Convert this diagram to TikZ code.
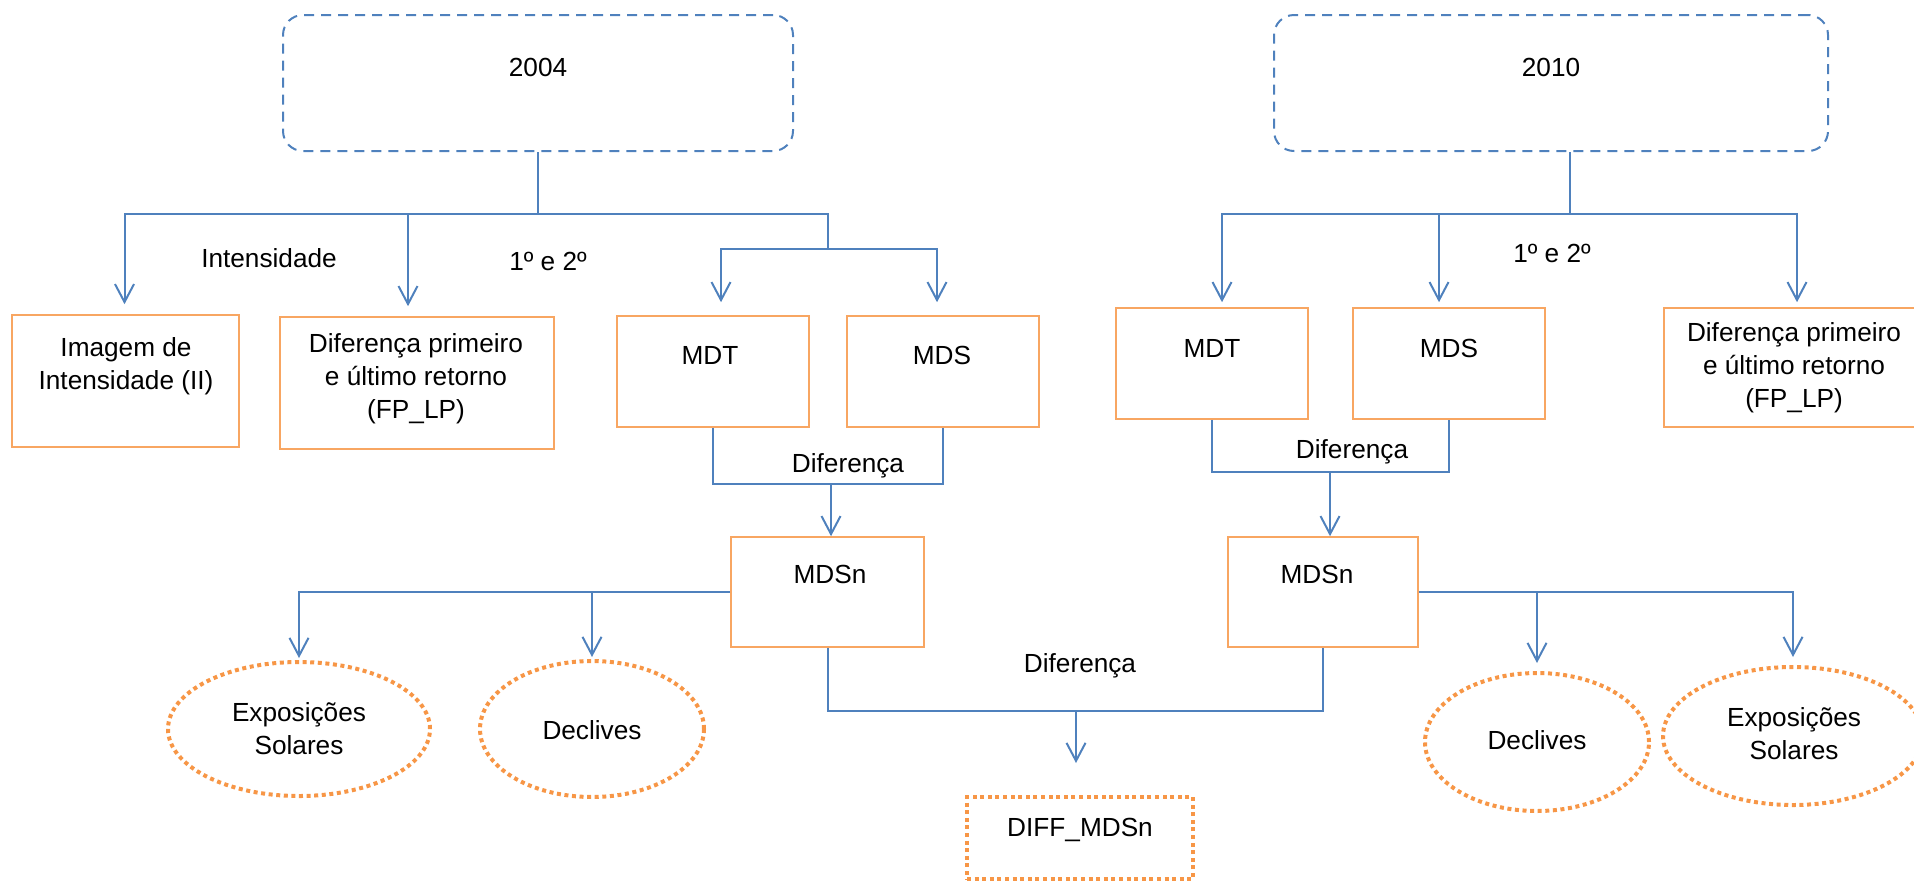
\documentclass[tikz,border=0pt]{standalone}
\usepackage{fontspec}
\setmainfont{Liberation Sans}
\usetikzlibrary{arrows.meta,shapes.geometric}
\definecolor{myblue}{HTML}{4F81BD}
\definecolor{myorange}{HTML}{F79646}
\colorlet{mylightorange}{myorange!85!white}
\tikzstyle{link}=[myblue,line width=1pt]
\tikzstyle{arr}=[link,-{Straight Barb[length=9pt,width=9.5pt]}]
\tikzstyle{year}=[draw=myblue,line width=1pt,dash pattern=on 5pt off 3.5pt,
                  rounded corners=10pt,inner sep=0]
\tikzstyle{prod}=[draw=mylightorange,line width=0.8pt,inner sep=0]
\tikzstyle{result}=[draw=myorange,line width=2pt,dash pattern=on 2pt off 1.8pt,inner sep=0]
\tikzstyle{lbl}=[inner sep=0,text height=9.4pt,text depth=0pt]
\tikzstyle{lbls}=[inner sep=0,align=center]

\begin{document}
\begin{tikzpicture}[x=0.5pt,y=-0.5pt,font=\fontsize{13.1}{16.5}\selectfont]
  \useasboundingbox (0,0) rectangle (1914,884);
  
  % YEARS
  \node[year,minimum width=255pt,minimum height=68pt] (yA) at (538,83) {};
  \node[lbl] (yAt) at (538,67) {2004};
  \node[year,minimum width=277pt,minimum height=68pt] (yB) at (1551,83) {};
  \node[lbl] (yBt) at (1551,67) {2010};
  
  % 2004 PRODUCTS
  \node[prod,minimum width=113.5pt,minimum height=66pt] (imgA) at (125.5,381) {};
  \node[lbls] (imgAt) at (126,366) {Imagem de\\Intensidade (II)};
  \node[prod,minimum width=137pt,minimum height=66pt] (fpA) at (417,383) {};
  \node[lbls] (fpAt) at (416,379) {Diferença primeiro\\e último retorno\\(FP\_LP)};
  \node[prod,minimum width=96pt,minimum height=55.5pt] (mdtA) at (713,371.5) {};
  \node[lbl] (mdtAt) at (710,355) {MDT};
  \node[prod,minimum width=96pt,minimum height=55.5pt] (mdsA) at (943,371.5) {};
  \node[lbl] (mdsAt) at (942,355) {MDS};
  \node[prod,minimum width=96.5pt,minimum height=55pt] (mdsnA) at (827.5,592) {};
  \node[lbl] (mdsnAt) at (830,574) {MDSn};
  \node[result,ellipse,minimum width=131pt,minimum height=67pt] (expA) at (299,729) {};
  \node[lbls] (expAt) at (299,729) {Exposições\\Solares};
  \node[result,ellipse,minimum width=112pt,minimum height=68pt] (decA) at (592,729) {};
  \node[lbl] (decAt) at (592,730) {Declives};
  
  % 2010 PRODUCTS
  \node[prod,minimum width=96pt,minimum height=55.5pt] (mdtB) at (1212,363.5) {};
  \node[lbl] (mdtBt) at (1212,348) {MDT};
  \node[prod,minimum width=96pt,minimum height=55.5pt] (mdsB) at (1449,363.5) {};
  \node[lbl] (mdsBt) at (1449,348) {MDS};
  \node[prod,minimum width=130pt,minimum height=59.5pt] (fpB) at (1794,367.5) {};
  \node[lbls] (fpBt) at (1794,368) {Diferença primeiro\\e último retorno\\(FP\_LP)};
  \node[prod,minimum width=95pt,minimum height=55pt] (mdsnB) at (1323,592) {};
  \node[lbl] (mdsnBt) at (1317,574) {MDSn};
  \node[result,ellipse,minimum width=112pt,minimum height=69pt] (decB) at (1537,742) {};
  \node[lbl] (decBt) at (1537,740) {Declives};
  \node[result,ellipse,minimum width=130pt,minimum height=69pt] (expB) at (1793,736) {};
  \node[lbls] (expBt) at (1794,734) {Exposições\\Solares};
  
  % DIFFERENCE OF BOTH YEARS
  \node[result,minimum width=113pt,minimum height=41pt] (diff) at (1080,838) {};
  \node[lbl] (difft) at (1080,827) {DIFF\_MDSn};
  
  % CONNECTORS 2004
  \coordinate (jA) at (538,214);
  \coordinate (kA) at (828,249);
  \coordinate (dA) at (831,484);
  \draw[link] (yA) -- (jA);
  \draw[arr,shorten >=5pt] (jA) -| ([xshift=-0.5pt]imgA.north);
  \draw[arr,shorten >=5pt] (jA) -| ([xshift=-4.5pt]fpA.north);
  \draw[link] (jA) -| (kA);
  \draw[arr,shorten >=6.5pt] (kA) -| ([xshift=4pt]mdtA.north);
  \draw[arr,shorten >=6.5pt] (kA) -| ([xshift=-3pt]mdsA.north);
  \draw[link] (mdtA.south) |- (dA) -| (mdsA.south);
  \draw[arr] (dA) -- (dA |- mdsnA.north);
  \draw[arr,shorten >=1pt] (mdsnA.west) -| (expA.north);
  \draw[arr,shorten >=1pt] (decA.north |- mdsnA.west) -- (decA.north);
  
  % CONNECTORS 2010
  \coordinate (jB) at (1570,214);
  \coordinate (dB) at (1330,472);
  \draw[link] (jB |- yB.south) -- (jB);
  \draw[arr,shorten >=2.5pt] (jB) -| ([xshift=5pt]mdtB.north);
  \draw[arr,shorten >=2.5pt] (jB) -| ([xshift=-5pt]mdsB.north);
  \draw[arr,shorten >=2.5pt] (jB) -| ([xshift=1.5pt]fpB.north);
  \draw[link] (mdtB.south) |- (dB) -| (mdsB.south);
  \draw[arr] (dB) -- (dB |- mdsnB.north);
  \draw[arr,shorten >=4pt] (mdsnB.east) -| (expB.north);
  \draw[arr,shorten >=4pt] (decB.north |- mdsnB.east) -- (decB.north);
  
  % MDSn DIFFERENCE
  \coordinate (dC) at (1076,711);
  \draw[link] (mdsnA.south) |- (dC) -| (mdsnB.south);
  \draw[arr,shorten >=16pt] (dC) -- (dC |- diff.north);
  
  % LABELS
  \node[lbl] (intA) at (269,258) {Intensidade};
  \node[lbl] (ordA) at (548,261) {1º e 2º};
  \node[lbl] (ordB) at (1552,253) {1º e 2º};
  \node[lbl] (difA) at (848,463) {Diferença};
  \node[lbl] (difB) at (1352,449) {Diferença};
  \node[lbl] (difC) at (1080,663) {Diferença};
  
\end{tikzpicture}
\end{document}
